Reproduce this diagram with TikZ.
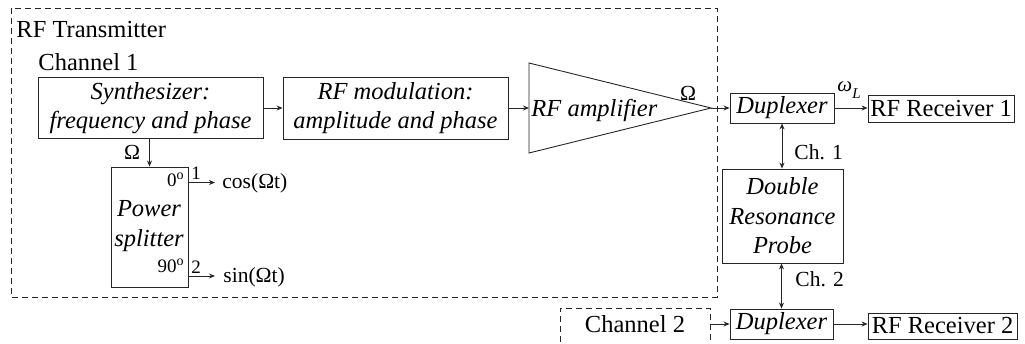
\documentclass[tikz,border=0pt]{standalone}
\usepackage{fontspec}
\setmainfont{Liberation Serif}
\usetikzlibrary{arrows.meta}
% raised small "o" used as the degree mark on the splitter ports
\newcommand{\degsup}{\raisebox{0.42em}{\fontsize{14}{14}\selectfont o}}

\begin{document}
\begin{tikzpicture}[x=1pt,y=-1pt, line width=0.9pt, draw=black!85,
  box/.style={draw, inner sep=0pt, align=center,
    font=\fontsize{24.5}{28.5}\selectfont\itshape},
  rxbox/.style={draw, inner sep=0pt, font=\fontsize{24.5}{28.5}\selectfont},
  txt/.style={inner sep=0pt, font=\fontsize{24.5}{28.5}\selectfont},
  itxt/.style={inner sep=0pt, font=\fontsize{24.5}{28.5}\selectfont\itshape},
  lbl/.style={inner sep=0pt, font=\fontsize{21.5}{24}\selectfont},
  small/.style={inner sep=0pt, font=\fontsize{19}{22}\selectfont},
  tip/.style={-{Stealth[length=6pt,width=5pt]}},
  both/.style={{Stealth[length=6pt,width=5pt]}-{Stealth[length=6pt,width=5pt]}},
  dashbox/.style={dash pattern=on 6pt off 4pt}
]
\useasboundingbox (0,0) rectangle (1025,344);

% transmitter enclosure
\draw[dashbox] (11,8) rectangle (717,297);
\node[txt, anchor=base west] (tx) at (16,38) {RF Transmitter};
\node[txt, anchor=base west] (ch1) at (38,71) {Channel 1};

% channel 1 chain
\node[box, minimum width=225pt, minimum height=61pt] (synth) at (150.5,108)
  {Synthesizer:\\frequency and phase};
\node[box, minimum width=225pt, minimum height=62pt] (mod) at (395.5,108)
  {RF modulation:\\amplitude and phase};

% amplifier triangle
\coordinate (ampTop) at (529,63);
\coordinate (ampBot) at (529,153);
\coordinate (ampIn)  at (529,108);
\coordinate (ampOut) at (711,108);
\draw (ampTop) -- (ampOut) -- (ampBot) -- cycle;
\node[itxt, anchor=base west] (amp) at (531,116.5) {RF amplifier};
\node[lbl, anchor=base] (omA) at (688,101) {Ω};

\draw[tip] (synth.east) -- (mod.west);
\draw[tip] (mod.east) -- (ampIn);

% power splitter
\node[draw, inner sep=0pt, minimum width=77pt, minimum height=120pt] (split) at (149.5,227) {};
\node[small, anchor=base east] (p0) at (184,187) {0\degsup};
\node[itxt, anchor=base] (pw) at (149,217) {Power};
\node[itxt, anchor=base] (sp) at (149,246.5) {splitter};
\node[small, anchor=base east] (p90) at (184,273) {90\degsup};
\draw[tip] (split.north |- synth.south) -- (split.north);
\node[lbl, anchor=base] (omS) at (132,160) {Ω};

\coordinate (out1) at (215,182.5);
\coordinate (out2) at (215,276);
\draw[tip] (out1 -| split.east) -- (out1);
\draw[tip] (out2 -| split.east) -- (out2);
\node[small, anchor=base] (n1) at (196,180) {1};
\node[small, anchor=base] (n2) at (196,274) {2};
\node[lbl, anchor=base west] (cos) at (222,189) {cos(Ωt)};
\node[lbl, anchor=base west] (sin) at (223,283) {sin(Ωt)};

% receive side
\node[box, minimum width=104pt, minimum height=30pt] (dup1) at (782,108) {Duplexer};
\node[rxbox, minimum width=146pt, minimum height=27pt] (rx1) at (941,108.5) {RF Receiver 1};
\node[box, minimum width=121pt, minimum height=94pt, font=\fontsize{24.5}{29.5}\selectfont\itshape]
  (probe) at (782.5,216) {Double\\Resonance\\Probe};
\node[box, minimum width=103pt, minimum height=30pt] (dup2) at (781.5,324) {Duplexer};
\node[rxbox, minimum width=149pt, minimum height=26pt] (rx2) at (942.5,326) {RF Receiver 2};

\draw[tip] (ampOut) -- (dup1.west);
\draw[tip] (dup1.east) -- (dup1.east -| rx1.west);
\draw[both] (dup1.south) -- (dup1.south |- probe.north);
\draw[both] (dup2.north |- probe.south) -- (dup2.north);
\draw[tip] (dup2.east) -- (dup2.east -| rx2.west);

\node[inner sep=0pt, anchor=base west] (omL) at (837,92)
  {\fontsize{21}{24}\selectfont\itshape ω\raisebox{-0.3em}{\fontsize{15}{15}\selectfont L}};
\node[lbl, anchor=base west] (c1) at (794,160) {Ch. 1};
\node[lbl, anchor=base west] (c2) at (795,286.5) {Ch. 2};

% channel 2 source (partly outside the frame)
\draw[dashbox] (560,352) -- (560,308) -- (710,308) -- (710,352);
\node[txt, anchor=base] (ch2) at (635,333) {Channel 2};
\coordinate (ch2out) at (710,324);
\draw[tip] (ch2out) -- (dup2.west);
\end{tikzpicture}
\end{document}
